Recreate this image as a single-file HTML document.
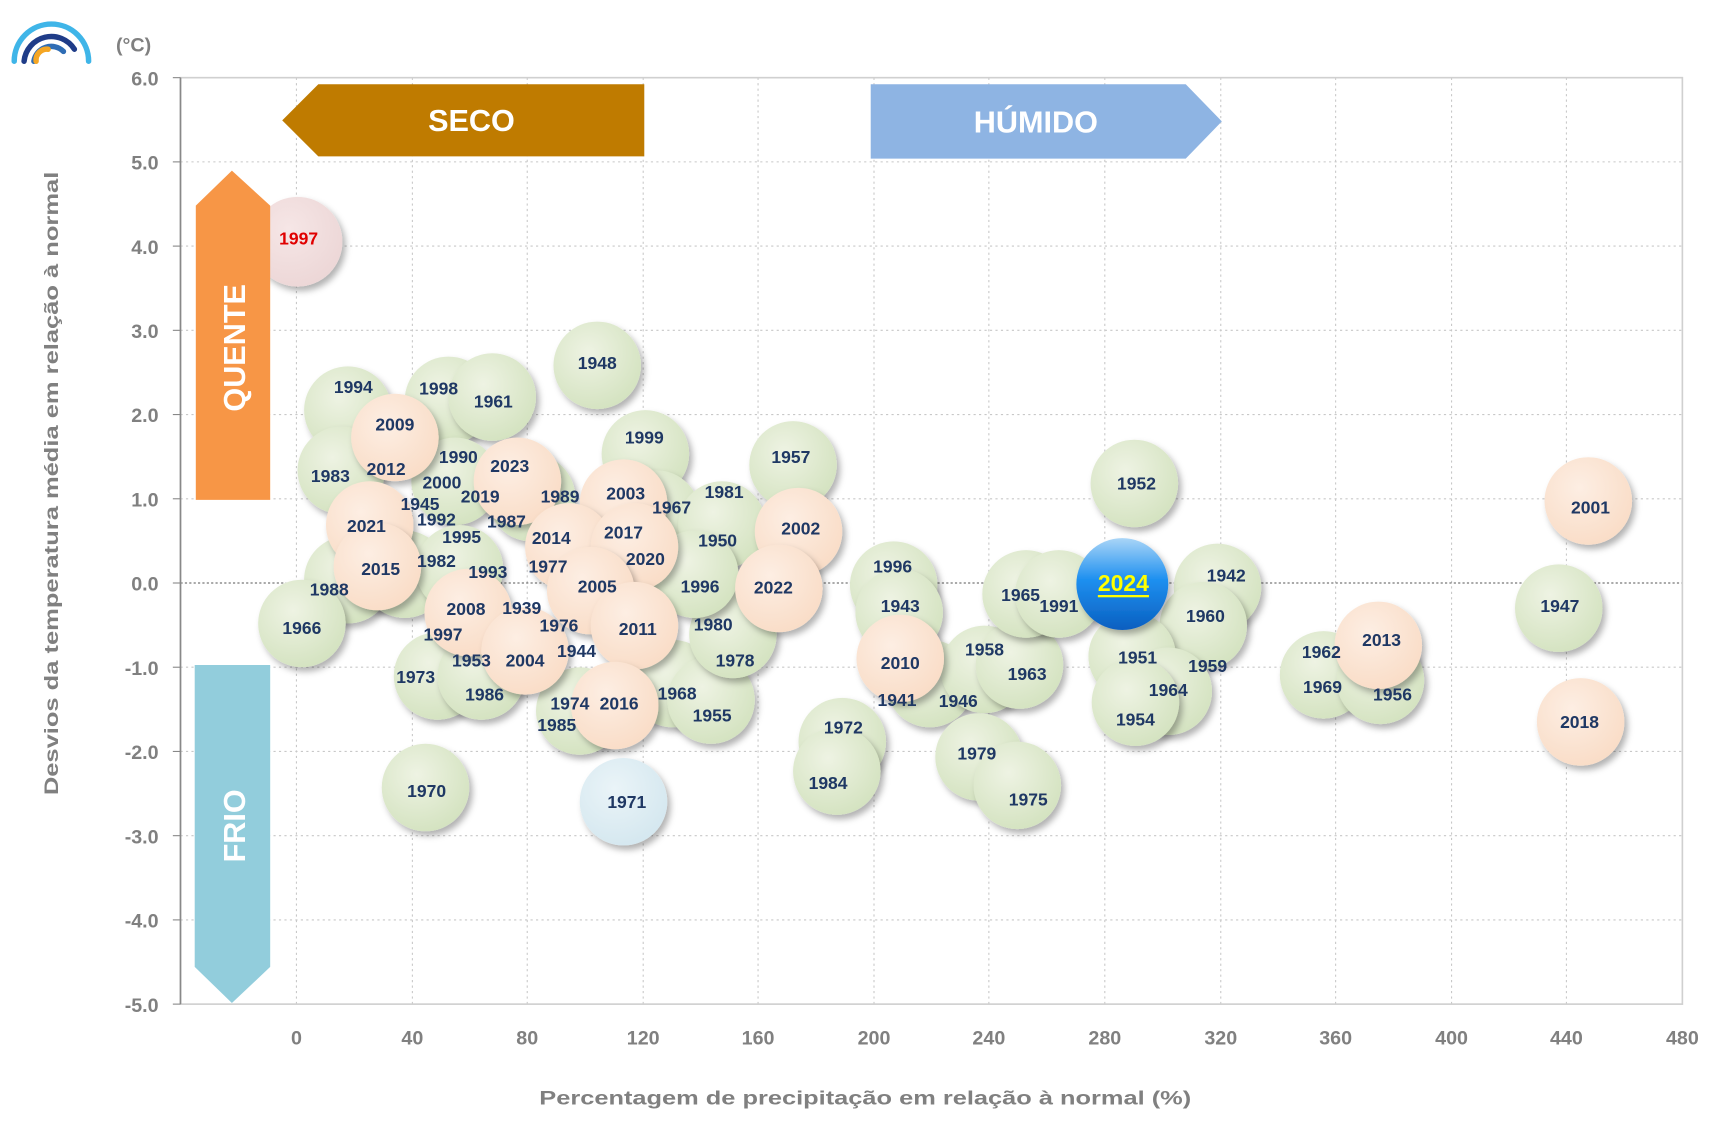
<!DOCTYPE html>
<html><head><meta charset="utf-8"><style>
html,body{margin:0;padding:0;background:#fff;}
svg{display:block;font-family:"Liberation Sans",sans-serif;}
.l{font-weight:bold;font-size:16px;fill:#1f3864;text-anchor:middle;dominant-baseline:central;}
.t{font-weight:bold;font-size:18px;fill:#808080;}
.g{fill:url(#gg);filter:url(#sh);}
.p{fill:url(#gp);filter:url(#sh);}
</style></head><body>
<svg width="1713" height="1131" viewBox="0 0 1566 1034" preserveAspectRatio="none" xmlns="http://www.w3.org/2000/svg">
<defs>
<radialGradient id="gg" cx="0.4" cy="0.35" r="0.7"><stop offset="0" stop-color="#eef3e3"/><stop offset="1" stop-color="#d3e2bf"/></radialGradient>
<radialGradient id="gp" cx="0.4" cy="0.35" r="0.7"><stop offset="0" stop-color="#fdeee3"/><stop offset="1" stop-color="#f9dcc6"/></radialGradient>
<radialGradient id="gk" cx="0.4" cy="0.35" r="0.7"><stop offset="0" stop-color="#f6e6e6"/><stop offset="1" stop-color="#ecd6d6"/></radialGradient>
<radialGradient id="gb" cx="0.4" cy="0.35" r="0.7"><stop offset="0" stop-color="#eaf4f8"/><stop offset="1" stop-color="#d4e7ef"/></radialGradient>
<linearGradient id="g24" x1="0" y1="0" x2="0" y2="1"><stop offset="0" stop-color="#a9d5f7"/><stop offset="0.45" stop-color="#1e90f0"/><stop offset="1" stop-color="#0a5fc0"/></linearGradient>
<filter id="sh" x="-30%" y="-30%" width="160%" height="160%"><feDropShadow dx="3" dy="4" stdDeviation="3" flood-color="#000" flood-opacity="0.3"/></filter>
</defs>
<!-- logo -->
<path d="M13,56 A34,34 0 0 1 81,56" fill="none" stroke="#3fb5e8" stroke-width="5" stroke-linecap="round"/>
<path d="M22,56 A25,25 0 0 1 68,45" fill="none" stroke="#1f3c88" stroke-width="5" stroke-linecap="round"/>
<path d="M31,56 A16,16 0 0 1 58,47" fill="none" stroke="#2f6db5" stroke-width="5" stroke-linecap="round"/>
<path d="M33,56 A10,10 0 0 1 44,45" fill="none" stroke="#f5a623" stroke-width="5" stroke-linecap="round"/>
<text x="106" y="47" class="t" font-size="18">(°C)</text>
<!-- grid -->
<g stroke="#c8c8c8" stroke-dasharray="2,3" stroke-width="1">
<line x1="165" y1="148" x2="1538" y2="148"/><line x1="165" y1="225" x2="1538" y2="225"/><line x1="165" y1="302" x2="1538" y2="302"/><line x1="165" y1="379" x2="1538" y2="379"/><line x1="165" y1="456" x2="1538" y2="456"/><line x1="165" y1="610" x2="1538" y2="610"/><line x1="165" y1="687" x2="1538" y2="687"/><line x1="165" y1="764" x2="1538" y2="764"/><line x1="165" y1="841" x2="1538" y2="841"/>
<line x1="271" y1="71" x2="271" y2="918"/><line x1="377" y1="71" x2="377" y2="918"/><line x1="482" y1="71" x2="482" y2="918"/><line x1="588" y1="71" x2="588" y2="918"/><line x1="693" y1="71" x2="693" y2="918"/><line x1="799" y1="71" x2="799" y2="918"/><line x1="904" y1="71" x2="904" y2="918"/><line x1="1010" y1="71" x2="1010" y2="918"/><line x1="1116" y1="71" x2="1116" y2="918"/><line x1="1221" y1="71" x2="1221" y2="918"/><line x1="1327" y1="71" x2="1327" y2="918"/><line x1="1432" y1="71" x2="1432" y2="918"/>
</g>
<line x1="165" y1="533" x2="1538" y2="533" stroke="#555" stroke-dasharray="2,2"/>
<rect x="165" y="71" width="1373" height="847" fill="none" stroke="#d0d0d0" stroke-width="1.5"/>
<line x1="165" y1="71" x2="165" y2="918" stroke="#888" stroke-width="1.5"/>
<g stroke="#888"><line x1="158" y1="71" x2="165" y2="71"/><line x1="158" y1="148" x2="165" y2="148"/><line x1="158" y1="225" x2="165" y2="225"/><line x1="158" y1="302" x2="165" y2="302"/><line x1="158" y1="379" x2="165" y2="379"/><line x1="158" y1="456" x2="165" y2="456"/><line x1="158" y1="533" x2="165" y2="533"/><line x1="158" y1="610" x2="165" y2="610"/><line x1="158" y1="687" x2="165" y2="687"/><line x1="158" y1="764" x2="165" y2="764"/><line x1="158" y1="841" x2="165" y2="841"/><line x1="158" y1="918" x2="165" y2="918"/></g>
<g class="t" text-anchor="end">
<text x="145" y="78">6.0</text><text x="145" y="155">5.0</text><text x="145" y="232">4.0</text><text x="145" y="309">3.0</text><text x="145" y="386">2.0</text><text x="145" y="463">1.0</text><text x="145" y="540">0.0</text><text x="145" y="617">-1.0</text><text x="145" y="694">-2.0</text><text x="145" y="771">-3.0</text><text x="145" y="848">-4.0</text><text x="145" y="925">-5.0</text>
</g>
<g class="t" text-anchor="middle">
<text x="271" y="955">0</text><text x="377" y="955">40</text><text x="482" y="955">80</text><text x="588" y="955">120</text><text x="693" y="955">160</text><text x="799" y="955">200</text><text x="904" y="955">240</text><text x="1010" y="955">280</text><text x="1116" y="955">320</text><text x="1221" y="955">360</text><text x="1327" y="955">400</text><text x="1432" y="955">440</text><text x="1538" y="955">480</text>
</g>
<text x="791" y="1010" class="t" font-size="23" text-anchor="middle" textLength="596" lengthAdjust="spacingAndGlyphs">Percentagem de precipitação em relação à normal (%)</text>
<text transform="translate(53,442) rotate(-90)" class="t" font-size="23" text-anchor="middle" textLength="570" lengthAdjust="spacingAndGlyphs">Desvios da temperatura média em relação à normal</text>
<!-- arrows -->
<polygon points="258,110 291,77 589,77 589,143 291,143" fill="#bf7b00"/>
<text x="431" y="120" fill="#fff" font-weight="bold" font-size="28" text-anchor="middle">SECO</text>
<polygon points="796,77 1084,77 1117,111 1084,145 796,145" fill="#8eb4e3"/>
<text x="947" y="121" fill="#fff" font-weight="bold" font-size="28" text-anchor="middle">HÚMIDO</text>
<circle cx="272" cy="221" r="41" fill="url(#gk)" filter="url(#sh)"/>
<polygon points="179,457 179,188 212,156 247,188 247,457" fill="#f79646"/>
<text transform="translate(224,318) rotate(-90)" fill="#fff" font-weight="bold" font-size="28" text-anchor="middle">QUENTE</text>
<polygon points="178,608 247,608 247,884 212,917 178,884" fill="#92cddc"/>
<text transform="translate(224,755) rotate(-90)" fill="#fff" font-weight="bold" font-size="28" text-anchor="middle">FRIO</text>
<!-- bubbles -->
<g>
<circle class="g" cx="318" cy="375" r="40"/><circle class="g" cx="410" cy="366" r="40"/><circle class="g" cx="450" cy="363" r="40"/><circle class="g" cx="546" cy="334" r="40"/>
<circle class="g" cx="312" cy="430" r="40"/><circle class="g" cx="590" cy="415" r="40"/><circle class="g" cx="725" cy="425" r="40"/>
<circle class="g" cx="416" cy="440" r="40"/><circle class="g" cx="486" cy="455" r="40"/><circle class="g" cx="600" cy="470" r="40"/><circle class="g" cx="660" cy="480" r="40"/>
<circle class="g" cx="318" cy="530" r="40"/><circle class="g" cx="370" cy="525" r="40"/><circle class="g" cx="276" cy="570" r="40"/><circle class="g" cx="420" cy="520" r="40"/>
<circle class="g" cx="400" cy="618" r="40"/><circle class="g" cx="440" cy="618" r="40"/><circle class="g" cx="530" cy="650" r="40"/><circle class="g" cx="615" cy="625" r="40"/><circle class="g" cx="650" cy="640" r="40"/><circle class="g" cx="670" cy="580" r="40"/><circle class="g" cx="635" cy="525" r="40"/>
<circle class="g" cx="389" cy="720" r="40"/>
<circle class="g" cx="817" cy="535" r="40"/><circle class="g" cx="822" cy="560" r="40"/><circle class="g" cx="850" cy="625" r="40"/><circle class="g" cx="900" cy="612" r="40"/><circle class="g" cx="932" cy="608" r="40"/>
<circle class="g" cx="938" cy="543" r="40"/><circle class="g" cx="968" cy="543" r="40"/>
<circle class="g" cx="770" cy="678" r="40"/><circle class="g" cx="765" cy="705" r="40"/><circle class="g" cx="895" cy="692" r="40"/><circle class="g" cx="930" cy="718" r="40"/>
<circle class="g" cx="1037" cy="442" r="40"/><circle class="g" cx="1113" cy="537" r="40"/><circle class="g" cx="1100" cy="572" r="40"/><circle class="g" cx="1035" cy="600" r="40"/><circle class="g" cx="1068" cy="632" r="40"/><circle class="g" cx="1038" cy="642" r="40"/>
<circle class="g" cx="1210" cy="617" r="40"/><circle class="g" cx="1262" cy="622" r="40"/><circle class="g" cx="1425" cy="556" r="40"/>
<circle class="p" cx="361" cy="400" r="40"/><circle class="p" cx="473" cy="440" r="40"/><circle class="p" cx="570" cy="460" r="40"/>
<circle class="p" cx="338" cy="480" r="40"/><circle class="p" cx="345" cy="518" r="40"/><circle class="p" cx="520" cy="500" r="40"/><circle class="p" cx="580" cy="500" r="40"/>
<circle class="p" cx="730" cy="486" r="40"/><circle class="p" cx="712" cy="538" r="40"/><circle class="p" cx="428" cy="560" r="40"/><circle class="p" cx="480" cy="595" r="40"/><circle class="p" cx="540" cy="540" r="40"/><circle class="p" cx="580" cy="572" r="40"/>
<circle class="p" cx="562" cy="645" r="40"/><circle class="p" cx="823" cy="602" r="40"/>
<circle class="p" cx="1260" cy="590" r="40"/><circle class="p" cx="1452" cy="458" r="40"/><circle class="p" cx="1445" cy="660" r="40"/>
<circle cx="570" cy="733" r="40" fill="url(#gb)" filter="url(#sh)"/>
<circle cx="1026" cy="534" r="42" fill="url(#g24)" filter="url(#sh)"/>
</g>
<text x="273" y="218" class="l" style="fill:#e00000">1997</text>
<g class="l">
<text x="323" y="354">1994</text><text x="401" y="355">1998</text><text x="451" y="367">1961</text><text x="361" y="388">2009</text><text x="546" y="332">1948</text>
<text x="302" y="435">1983</text><text x="353" y="429">2012</text><text x="419" y="418">1990</text><text x="466" y="426">2023</text><text x="404" y="441">2000</text>
<text x="384" y="461">1945</text><text x="439" y="454">2019</text><text x="512" y="454">1989</text><text x="572" y="451">2003</text><text x="614" y="464">1967</text><text x="662" y="450">1981</text><text x="723" y="418">1957</text><text x="589" y="400">1999</text>
<text x="335" y="481">2021</text><text x="399" y="475">1992</text><text x="463" y="477">1987</text><text x="422" y="491">1995</text><text x="504" y="492">2014</text><text x="570" y="487">2017</text><text x="656" y="494">1950</text><text x="732" y="483">2002</text>
<text x="348" y="520">2015</text><text x="399" y="513">1982</text><text x="446" y="523">1993</text><text x="501" y="518">1977</text><text x="590" y="511">2020</text>
<text x="301" y="539">1988</text><text x="546" y="536">2005</text><text x="640" y="536">1996</text><text x="707" y="537">2022</text><text x="426" y="557">2008</text><text x="477" y="556">1939</text>
<text x="276" y="574">1966</text><text x="405" y="580">1997</text><text x="511" y="572">1976</text><text x="583" y="575">2011</text><text x="652" y="571">1980</text>
<text x="431" y="604">1953</text><text x="480" y="604">2004</text><text x="527" y="595">1944</text><text x="672" y="604">1978</text><text x="380" y="619">1973</text><text x="443" y="635">1986</text>
<text x="619" y="634">1968</text><text x="521" y="643">1974</text><text x="566" y="643">2016</text><text x="651" y="654">1955</text><text x="509" y="663">1985</text>
<text x="390" y="723">1970</text><text x="573" y="733">1971</text>
<text x="816" y="518">1996</text><text x="823" y="554">1943</text><text x="823" y="606">2010</text><text x="820" y="640">1941</text><text x="876" y="641">1946</text><text x="900" y="594">1958</text><text x="939" y="616">1963</text>
<text x="933" y="544">1965</text><text x="968" y="554">1991</text><text x="771" y="665">1972</text><text x="757" y="716">1984</text><text x="893" y="689">1979</text><text x="940" y="731">1975</text>
<text x="1039" y="442">1952</text><text x="1121" y="526">1942</text><text x="1102" y="563">1960</text><text x="1040" y="601">1951</text><text x="1104" y="609">1959</text><text x="1068" y="631">1964</text><text x="1038" y="658">1954</text>
<text x="1208" y="596">1962</text><text x="1209" y="628">1969</text><text x="1263" y="585">2013</text><text x="1273" y="635">1956</text><text x="1426" y="554">1947</text><text x="1454" y="464">2001</text><text x="1444" y="660">2018</text>
</g>
<text x="1027" y="533" class="l" style="fill:#ffff00;font-size:21px;text-decoration:underline">2024</text>
</svg>
</body></html>
